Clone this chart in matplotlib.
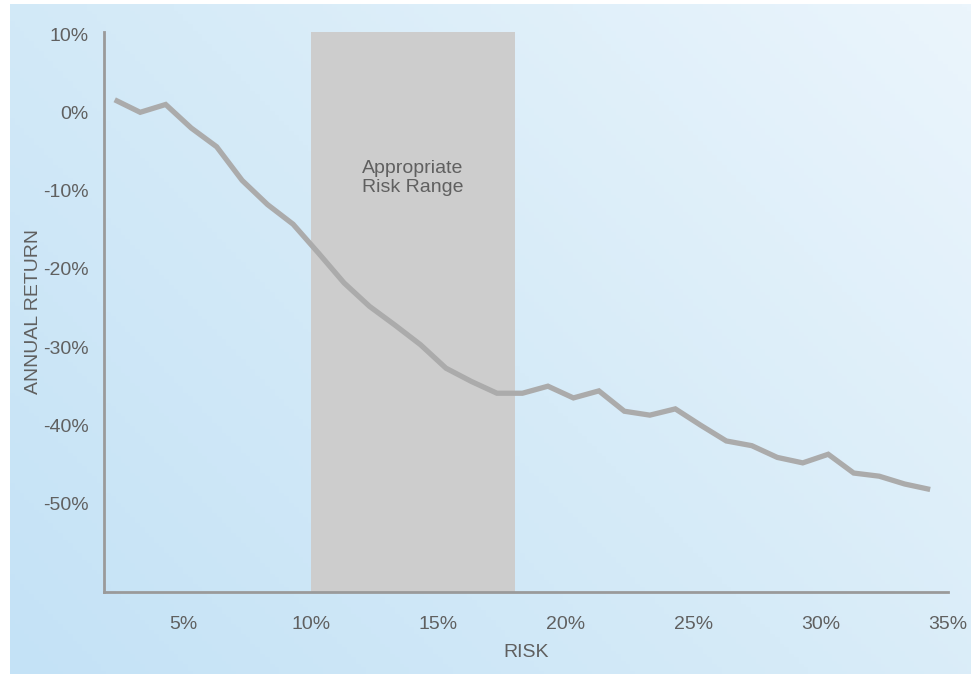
import numpy as np
import matplotlib
matplotlib.use('Agg')
import matplotlib.pyplot as plt
from matplotlib.colors import LinearSegmentedColormap

plt.rcParams['font.family'] = ['Liberation Sans', 'DejaVu Sans']

# data
risk = [2.3, 3.3, 4.3, 5.3, 6.3, 7.3, 8.3, 9.3, 10.3, 11.3, 12.3, 13.3, 14.3, 15.3, 16.3, 17.3,
        18.3, 19.3, 20.3, 21.3, 22.3, 23.3, 24.3, 25.3, 26.3, 27.3, 28.3, 29.3, 30.3, 31.3, 32.3,
        33.3, 34.3]
annual_return = [1.6, 0.0, 1.0, -2.0, -4.4, -8.7, -11.8, -14.3, -18.0, -21.8, -24.8, -27.2,
                 -29.7, -32.7, -34.4, -35.9, -35.9, -35.0, -36.5, -35.6, -38.2, -38.7, -37.9,
                 -40.0, -42.0, -42.6, -44.1, -44.8, -43.7, -46.1, -46.5, -47.5, -48.2]
range_lo = 10
range_hi = 18
x_ticks = [5, 10, 15, 20, 25, 30, 35]
y_ticks = [10, 0, -10, -20, -30, -40, -50]

text_color = '#606060'
fs = 14
fig = plt.figure(figsize=(9.71, 6.74), dpi=100)
fig.patch.set_facecolor('white')

# gradient background panel
bg = fig.add_axes([10 / 971, 0, 1 - 10 / 971, 670 / 674])
bg.set_axis_off()
gx, gy = np.meshgrid(np.linspace(0, 1, 200), np.linspace(0, 1, 200))
grad = (gx * 0.6 + gy * 0.4)
cmap = LinearSegmentedColormap.from_list('bg', ['#c4e2f6', '#d6ebf8', '#ebf5fc'])
bg.imshow(grad, cmap=cmap, origin='lower', aspect='auto', extent=[0, 1, 0, 1])

ax = fig.add_axes([104 / 971, 1 - 592 / 674, (948 - 104) / 971, (592 - 31.7) / 674])
ax.patch.set_alpha(0)
ax.axvspan(range_lo, range_hi, color='#cdcdcd', lw=0, zorder=1)
ax.plot(risk, annual_return, color='#ababab', lw=3.8, solid_joinstyle='miter',
        solid_capstyle='butt', zorder=3)
ax.text((range_lo + range_hi) / 2, -8.4, 'Appropriate\nRisk Range', ha='center', va='center',
        fontsize=fs, color=text_color, linespacing=1.1)

ax.set_xlim(1.88, 35)
ax.set_ylim(-61.3, 10.3)
ax.set_xticks(x_ticks)
ax.set_xticklabels([str(t) + '%' for t in x_ticks])
ax.set_yticks(y_ticks)
ax.set_yticklabels([str(t) + '%' for t in y_ticks])
ax.tick_params(length=0, labelsize=fs, labelcolor=text_color)
ax.tick_params(axis='x', pad=17)
ax.tick_params(axis='y', pad=11)
for side in ['top', 'right']:
  ax.spines[side].set_visible(False)
for side in ['left', 'bottom']:
  ax.spines[side].set_color('#9a9a9a')
  ax.spines[side].set_linewidth(2)
ax.set_xlabel('RISK', fontsize=fs, color=text_color, labelpad=8)
ax.set_ylabel('ANNUAL RETURN', fontsize=fs, color=text_color)
ax.yaxis.set_label_coords(-62 / 844, 0.5)

fig.savefig('out.png', dpi=100)
